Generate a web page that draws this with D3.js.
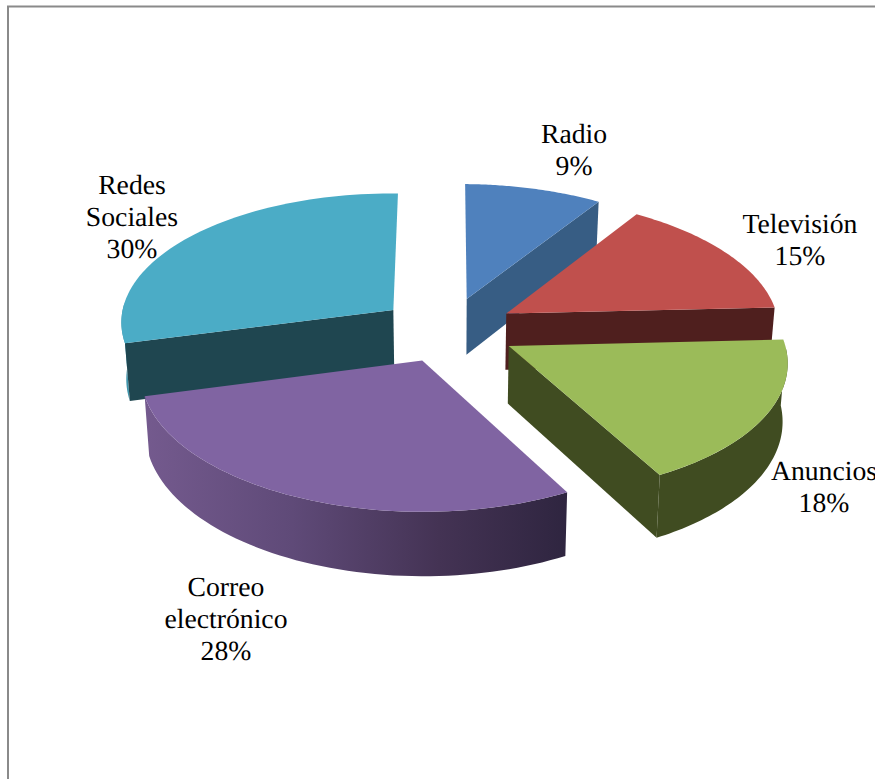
<!DOCTYPE html>
<html lang="es">
<head>
<meta charset="utf-8">
<script src="https://cdn.jsdelivr.net/npm/d3@7/dist/d3.min.js"></script>
<style>
  html, body { margin: 0; padding: 0; background: #fff; overflow: hidden; }
  svg { display: block; }
  text { font-family: "Liberation Serif", "Times New Roman", serif; font-size: 27.7px; fill: #000; text-anchor: middle; text-rendering: geometricPrecision; }
</style>
</head>
<body>
<script>
// Chart data
const categories = ["Radio", "Televisión", "Anuncios", "Correo electrónico", "Redes Sociales"];
const shares = [9, 15, 18, 28, 30];
const labelLines = [["Radio"], ["Televisión"], ["Anuncios"], ["Correo", "electrónico"], ["Redes", "Sociales"]];

// Face and wall colours per category
const topColors = ["#4f81bd", "#c0504d", "#9bbb59", "#8064a2", "#4bacc6"];
const wallColors = ["#375d84", "#4f1f1e", "#404c21", "#4f3d66", "#1f4650"];
const rimColors = ["#375d84", "#4f1f1e", "#404c21", "url(#correoWall)", "#3f95ac"];

// Label anchors: horizontal centre and first baseline
const labelAnchors = [[574, 143], [800, 233], [824, 480], [226, 596], [132, 194]];
const labelLeading = 32;

const width = 875, height = 779;
const svg = d3.select("body").append("svg").attr("width", width).attr("height", height);

// Chart area border, running off the right and bottom of the page
svg.append("path")
  .attr("d", `M8 ${height + 2}V6.5H${width + 2}`)
  .attr("fill", "none").attr("stroke", "#8a8a8a").attr("stroke-width", 2);

// Shading of the purple rim, lit from the left
const grad = svg.append("defs").append("linearGradient")
  .attr("id", "correoWall").attr("gradientUnits", "userSpaceOnUse")
  .attr("x1", 145).attr("x2", 565).attr("y1", 0).attr("y2", 0);
[[0, "#745a8e"], [0.35, "#5f4a78"], [0.7, "#443354"], [1, "#2f2540"]].forEach(([o, c]) =>
  grad.append("stop").attr("offset", o).attr("stop-color", c));

// Tilted disc: pie-plane coordinates (u right, v towards the viewer) to the page
const cx = 448, cy = 329.5, radiusX = 274, radiusY = 131;
const perspective = 0.0935, explode = 0.25, thickness = 57, baseShrink = 0.985, roll = 2;
const leftSkew = 0.044;

const scaleU = d3.scaleLinear().domain([0, 1]).range([0, radiusX]);
const scaleV = d3.scaleLinear().domain([0, 1]).range([0, radiusY]);

function project(u, v, lower) {
  const k = 1 / (1 - perspective * v);
  const x = scaleU(u) * k, y = cy + scaleV(v) * k + roll * u;
  return lower
    ? [cx + x * baseShrink, y + thickness * k]
    : [cx + x, y];
}

// The camera turn pulls angles on the far left half slightly round the disc
const viewAngle = a => a + leftSkew * Math.max(0, Math.sin(a - Math.PI));

const line = d3.line();
const slices = d3.pie().sort(null).value(d => d)(shares);

// Back slices first, so nearer ones overlap them
const drawOrder = [0, 4, 1, 2, 3];
const g = svg.append("g");

drawOrder.forEach(i => {
  const s = slices[i];
  const mid = (s.startAngle + s.endAngle) / 2;
  const ou = explode * Math.sin(mid), ov = -explode * Math.cos(mid);
  const rim = (a, lower) => {
    const w = viewAngle(a);
    return project(ou + Math.sin(w), ov - Math.cos(w), lower);
  };
  const apex = lower => project(ou, ov, lower);
  const arc = (a0, a1) => d3.range(0, 61).map(t => a0 + (a1 - a0) * t / 60);

  // Outer wall, only where it faces the viewer
  const a0 = Math.max(s.startAngle, Math.PI / 2), a1 = Math.min(s.endAngle, Math.PI * 1.5);
  if (a1 > a0) {
    const pts = arc(a0, a1);
    g.append("path")
      .attr("d", line([...pts.map(a => rim(a, false)), ...pts.slice().reverse().map(a => rim(a, true))]) + "Z")
      .attr("fill", rimColors[i]);
  }

  // Cut faces visible from the front
  const cutFace = a => g.append("path")
    .attr("d", line([apex(false), rim(a, false), rim(a, true), apex(true)]) + "Z")
    .attr("fill", wallColors[i]);
  if (Math.sin(s.startAngle) < -1e-6) cutFace(s.startAngle);
  if (Math.sin(s.endAngle) > 1e-6) cutFace(s.endAngle);

  // Top face
  g.append("path")
    .attr("d", line([apex(false), ...arc(s.startAngle, s.endAngle).map(a => rim(a, false))]) + "Z")
    .attr("fill", topColors[i]);
});

// Category labels with their percentage on the last line
categories.forEach((c, i) => {
  const [x, y] = labelAnchors[i];
  const t = svg.append("text").attr("x", x).attr("y", y);
  [...labelLines[i], shares[i] + "%"].forEach((txt, j) =>
    t.append("tspan").attr("x", x).attr("y", y + j * labelLeading).text(txt));
});
</script>
</body>
</html>
